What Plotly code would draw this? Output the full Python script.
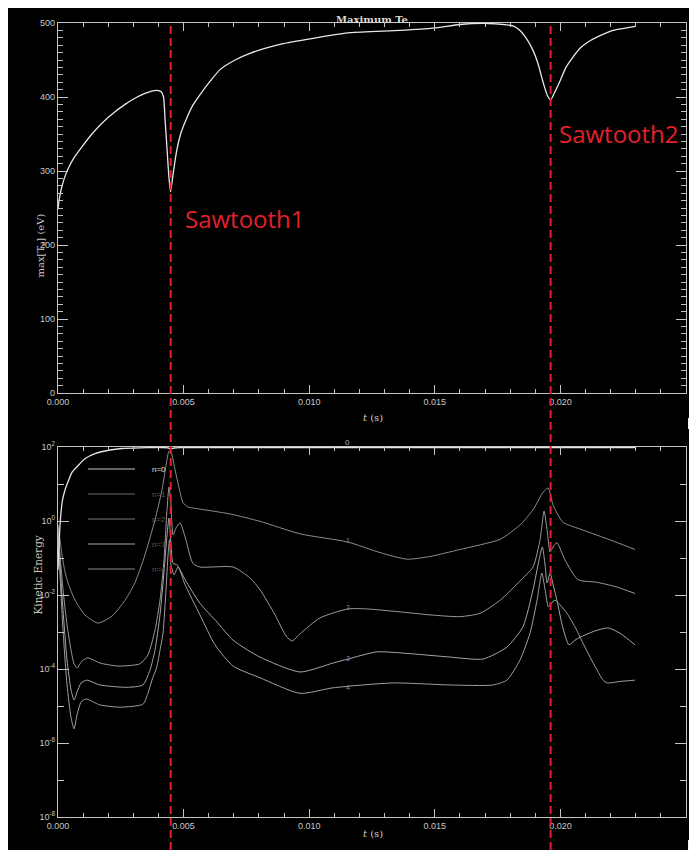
import math
import plotly.graph_objects as go

# ---------------- data ----------------
# Top panel: maximum electron temperature (eV) vs time (s)
te_t = [0.0, 0.00004, 0.00012, 0.00024, 0.00040, 0.00064, 0.00096, 0.00135, 0.00179, 0.00227,
        0.00267, 0.00299, 0.00346, 0.00393, 0.00411, 0.00420, 0.00426, 0.00434, 0.00442, 0.00448,
        0.00454, 0.00462, 0.00474, 0.00490, 0.00512, 0.00537, 0.00565, 0.00605, 0.00645, 0.00705,
        0.00764, 0.00896, 0.01043, 0.01162, 0.01362, 0.01493, 0.01600, 0.01692, 0.01787, 0.01811,
        0.01839, 0.01867, 0.01891, 0.01911, 0.01931, 0.01947, 0.01961, 0.01974, 0.01999, 0.02022,
        0.02050, 0.02078, 0.02118, 0.02158, 0.02210, 0.02258, 0.02298]
te_val = [248, 260, 274, 289, 303, 318, 333, 350, 366, 380,
          390, 397, 405, 409, 407, 400, 371, 330, 290, 272,
          285, 305, 330, 352, 371, 389, 403, 421, 437, 450,
          459, 472, 481, 487, 490, 493, 498, 499.5, 497.5, 496,
          490, 478, 463, 445, 420, 403, 396, 404, 422, 440,
          454, 466, 476, 483, 490, 493, 495.5]

# Bottom panel: kinetic energy per toroidal mode n (log scale)
n0_t = [0.0, 0.00004, 0.00008, 0.00012, 0.00018, 0.00028, 0.00041, 0.00056, 0.00081, 0.00107,
        0.00147, 0.00207, 0.00255, 0.00326, 0.00386, 0.00438, 0.00448, 0.00462, 0.00486, 0.00800,
        0.01200, 0.01600, 0.02000, 0.02297]
n0_val = [0.048, 0.22, 0.78, 1.7, 3.7, 6.9, 12, 21, 32, 48,
          66, 83, 91, 95, 96, 95, 88, 94, 96, 96,
          96, 96, 96, 96]

n1_t = [0.0, 0.00008, 0.00016, 0.00028, 0.00040, 0.00068, 0.00107, 0.00159, 0.00215, 0.00267,
        0.00307, 0.00346, 0.00386, 0.00414, 0.00430, 0.00442, 0.00450, 0.00466, 0.00486, 0.00498,
        0.00517, 0.00565, 0.00685, 0.00804, 0.00963, 0.01154, 0.01282, 0.01389, 0.01481, 0.01600,
        0.01760, 0.01839, 0.01891, 0.01931, 0.01951, 0.01971, 0.02010, 0.02090, 0.02197, 0.02297]
n1_val = [0.78, 0.31, 0.12, 0.042, 0.021, 7.2e-3, 2.9e-3, 1.74e-3, 2.7e-3, 7.2e-3,
          0.022, 0.12, 1.07, 6.9, 32, 78, 73, 24, 6.0, 3.1,
          2.4, 2.1, 1.55, 0.98, 0.45, 0.27, 0.14, 0.093, 0.11, 0.17,
          0.32, 0.78, 2.0, 6.0, 7.8, 2.7, 0.93, 0.57, 0.31, 0.17]

n2_t = [0.0, 0.00008, 0.00020, 0.00036, 0.00052, 0.00064, 0.00076, 0.00096, 0.00119, 0.00167,
        0.00239, 0.00326, 0.00358, 0.00386, 0.00406, 0.00422, 0.00434, 0.00442, 0.00450, 0.00458,
        0.00470, 0.00486, 0.00506, 0.00537, 0.00565, 0.00697, 0.00764, 0.00804, 0.00864, 0.00908,
        0.00932, 0.00963, 0.01043, 0.01154, 0.01230, 0.01362, 0.01481, 0.01600, 0.01680, 0.01760,
        0.01839, 0.01891, 0.01919, 0.01935, 0.01947, 0.01959, 0.01971, 0.01986, 0.02018, 0.02070,
        0.02146, 0.02217, 0.02297]
n2_val = [0.65, 0.12, 0.014, 1.55e-3, 3.2e-4, 1.38e-4, 1.07e-4, 1.66e-4, 2.0e-4, 1.45e-4,
          1.2e-4, 1.38e-4, 2.4e-4, 1.12e-3, 7.2e-3, 0.089, 2.0, 8.3, 2.7, 0.42,
          0.65, 0.89, 0.37, 0.072, 0.057, 0.057, 0.029, 0.014, 2.9e-3, 7.8e-4,
          5.7e-4, 8.9e-4, 2.4e-3, 4.2e-3, 4.2e-3, 3.5e-3, 2.9e-3, 2.6e-3, 3.2e-3, 7.2e-3,
          0.024, 0.057, 0.31, 1.86, 0.57, 0.145, 0.2, 0.26, 0.089, 0.026,
          0.022, 0.017, 0.011]

n3_t = [0.0, 0.00008, 0.00020, 0.00036, 0.00052, 0.00064, 0.00076, 0.00092, 0.00115, 0.00167,
        0.00275, 0.00338, 0.00366, 0.00386, 0.00406, 0.00422, 0.00434, 0.00442, 0.00450, 0.00458,
        0.00474, 0.00506, 0.00565, 0.00633, 0.00697, 0.00804, 0.00963, 0.01095, 0.01154, 0.01270,
        0.01401, 0.01561, 0.01692, 0.01787, 0.01851, 0.01891, 0.01915, 0.01928, 0.01939, 0.01947,
        0.01959, 0.01971, 0.01986, 0.02010, 0.02034, 0.02058, 0.02078, 0.02138, 0.02190, 0.02237,
        0.02297]
n3_val = [0.58, 0.065, 3.9e-3, 1.74e-4, 2.7e-5, 1.45e-5, 2.4e-5, 4.2e-5, 5.0e-5, 3.7e-5,
          3.2e-5, 3.7e-5, 9.3e-5, 3.2e-4, 2.9e-3, 0.042, 0.42, 1.2, 0.22, 0.072,
          0.065, 0.026, 6.0e-3, 1.86e-3, 6.0e-4, 2.1e-4, 8.3e-5, 1.45e-4, 1.86e-4, 2.9e-4,
          2.6e-4, 2.1e-4, 1.86e-4, 3.9e-4, 1.38e-3, 0.014, 0.089, 0.2, 0.065, 0.021,
          0.039, 0.019, 7.2e-3, 1.29e-3, 4.5e-4, 6.0e-4, 7.2e-4, 1.07e-3, 1.29e-3, 9.3e-4,
          4.5e-4]

n4_t = [0.0, 0.00008, 0.00020, 0.00036, 0.00052, 0.00064, 0.00076, 0.00092, 0.00111, 0.00167,
        0.00247, 0.00338, 0.00358, 0.00374, 0.00393, 0.00406, 0.00418, 0.00430, 0.00438, 0.00444,
        0.00450, 0.00462, 0.00478, 0.00506, 0.00565, 0.00625, 0.00697, 0.00804, 0.00963, 0.01095,
        0.01334, 0.01561, 0.01732, 0.01787, 0.01839, 0.01879, 0.01907, 0.01926, 0.01939, 0.01952,
        0.01963, 0.01979, 0.01999, 0.02026, 0.02058, 0.02090, 0.02118, 0.02146, 0.02170, 0.02186,
        0.02237, 0.02297]
n4_val = [0.5, 0.035, 1.12e-3, 3.7e-5, 4.8e-6, 2.4e-6, 5.8e-6, 1.29e-5, 1.55e-5, 1.07e-5,
          9.3e-6, 1.12e-5, 2.2e-5, 5.0e-5, 1.12e-4, 3.2e-4, 9.3e-4, 0.014, 0.12, 0.31,
          0.065, 0.035, 0.057, 0.019, 2.9e-3, 4.5e-4, 1.2e-4, 5.8e-5, 2.2e-5, 3.1e-5,
          4.2e-5, 3.7e-5, 3.7e-5, 5.0e-5, 1.74e-4, 9.3e-4, 7.2e-3, 0.039, 0.014, 4.8e-3,
          6.0e-3, 7.2e-3, 5.4e-3, 3.2e-3, 1.38e-3, 5.0e-4, 2.1e-4, 9.3e-5, 5.0e-5, 4.2e-5,
          4.6e-5, 5.0e-5]

mode_labels = ["n=0", "n=1", "n=2", "n=3", "n=4"]
curve_tags = ["0", "1", "2", "3", "4"]
curve_tag_values = [0.29, 4.5e-3, 1.9e-4, 3.1e-5]
sawtooth_times = [0.004487, 0.01961]
sawtooth_names = ["Sawtooth1", "Sawtooth2"]
x_ticks = [0.0, 0.005, 0.010, 0.015, 0.020, 0.025]
ke_major = [1e-8, 1e-6, 1e-4, 1e-2, 1e0, 1e2]
ke_major_text = ["10<sup>-8</sup>", "10<sup>-6</sup>", "10<sup>-4</sup>",
                 "10<sup>-2</sup>", "10<sup>0</sup>", "10<sup>2</sup>"]
ke_minor = [1e-7, 1e-5, 1e-3, 1e-1, 1e1]

# ---------------- layout geometry ----------------
# The page has an 8px body margin, so the figure is placed at (8, 8) in the window.
OFF = 8
PAGE_W, PAGE_H = 697, 850
W, H = PAGE_W - OFF, PAGE_H - OFF
PLOT_L, PLOT_R, PLOT_T, PLOT_B = 58, 686, 23, 817      # page pixel coordinates
ML, MR = PLOT_L - OFF, W - (PLOT_R - OFF)
MT, MB = PLOT_T - OFF, H - (PLOT_B - OFF)
PW = W - ML - MR
PH = H - MT - MB


def px(x):
    """page x pixel -> paper fraction"""
    return (x - PLOT_L) / PW


def py(y):
    """page y pixel -> paper fraction"""
    return (PLOT_B - y) / PH


AX = "#c4c4c4"
TXT = "#c8c8c8"
RED = "#e3202a"
TICKFONT = dict(family="Liberation Sans", size=9, color=TXT)
SERIF = "DejaVu Serif"

curve_colors = ["#e4e4e4", "#8c8c8c", "#9a9a9a", "#a6a6a6", "#a0a0a0"]
legend_line_colors = ["#c8c8c8", "#6a6a6a", "#7a7a7a", "#a6a6a6", "#8a8a8a"]
legend_text_colors = ["#e0e0e0", "#5c5c5c", "#5c5c5c", "#5c5c5c", "#5c5c5c"]

fig = go.Figure()

fig.add_trace(go.Scatter(x=te_t, y=te_val, mode="lines", xaxis="x", yaxis="y",
                         line=dict(color="#e8e8e8", width=1.3, shape="spline", smoothing=0.6),
                         hoverinfo="skip"))

series = [(n0_t, n0_val), (n1_t, n1_val), (n2_t, n2_val), (n3_t, n3_val), (n4_t, n4_val)]
for i in range(4, -1, -1):
    tt, vv = series[i]
    fig.add_trace(go.Scatter(x=tt, y=vv, mode="lines", xaxis="x2", yaxis="y2",
                             name=mode_labels[i],
                             line=dict(color=curve_colors[i], width=1.3 if i == 0 else 1.0,
                                       shape="spline", smoothing=0.6),
                             hoverinfo="skip"))

common_x = dict(range=[0, 0.025], tickmode="array", tickvals=x_ticks, tickformat=".3f",
                ticks="inside", ticklen=8, tickwidth=1, tickcolor=AX, automargin=False,
                showline=True, linecolor=AX, linewidth=1.2, mirror="allticks",
                showgrid=False, zeroline=False, tickfont=TICKFONT,
                minor=dict(dtick=0.001, tick0=0, ticks="inside", ticklen=4, tickcolor=AX,
                           tickwidth=1, showgrid=False))

fig.update_layout(
    template="none",
    width=W, height=H,
    margin=dict(l=ML, r=MR, t=MT, b=MB, pad=0, autoexpand=False),
    paper_bgcolor="black", plot_bgcolor="black",
    showlegend=False,
    xaxis=dict(domain=[0, 1], anchor="y", **common_x),
    yaxis=dict(domain=[py(393), 1], anchor="x", range=[0, 500], tickmode="linear",
               tick0=0, dtick=100, ticks="inside", ticklen=10, tickwidth=1, tickcolor=AX,
               showline=True, linecolor=AX, linewidth=1.2, mirror="allticks", automargin=False,
               showgrid=False, zeroline=False, tickfont=TICKFONT,
               minor=dict(dtick=10, tick0=0, ticks="inside", ticklen=5, tickcolor=AX,
                          tickwidth=1, showgrid=False)),
    xaxis2=dict(domain=[0, 1], anchor="y2", **common_x),
    yaxis2=dict(domain=[0, py(447)], anchor="x2", type="log", range=[-8, 2],
                tickmode="array", tickvals=ke_major, ticktext=ke_major_text,
                ticks="inside", ticklen=11, tickwidth=1, tickcolor=AX, automargin=False,
                showline=True, linecolor=AX, linewidth=1.2, mirror="allticks",
                showgrid=False, zeroline=False, tickfont=TICKFONT,
                minor=dict(tickmode="array", tickvals=ke_minor, ticks="inside", ticklen=6,
                           tickcolor=AX, tickwidth=1, showgrid=False)),
)

shapes = []
annotations = []

# small resize-handle squares at the right edge
for (yy0, yy1) in [(418, 429), (840, 850)]:
    shapes.append(dict(type="rect", xref="paper", yref="paper", x0=px(688), x1=px(697),
                       y0=py(yy1), y1=py(yy0), fillcolor="#f0f0f0", line=dict(width=0),
                       layer="above"))
    shapes.append(dict(type="line", xref="paper", yref="paper", x0=px(689), x1=px(697),
                       y0=py(yy1 - 1), y1=py(yy0 + 1), line=dict(color="#909090", width=1),
                       layer="above"))

# red dashed sawtooth markers
for ts in sawtooth_times:
    shapes.append(dict(type="line", xref="x", yref="paper", x0=ts, x1=ts, y0=py(850), y1=py(24),
                       line=dict(color=RED, width=2, dash="8px,4px"), layer="above"))

# legend (IDL style) inside the bottom panel
legend_rows = [469, 494, 519, 544, 569]
for i, yy in enumerate(legend_rows):
    shapes.append(dict(type="line", xref="paper", yref="paper", x0=px(88), x1=px(135),
                       y0=py(yy), y1=py(yy), line=dict(color=legend_line_colors[i], width=1.2)))
    annotations.append(dict(xref="paper", yref="paper", x=px(150), y=py(yy), text=mode_labels[i],
                            showarrow=False, xanchor="left", yanchor="middle",
                            font=dict(family="Liberation Sans", size=8,
                                      color=legend_text_colors[i])))

# curve number tags
tag_t = 0.01154
annotations.append(dict(xref="x2", yref="paper", x=tag_t, y=py(442), text=curve_tags[0],
                        showarrow=False, font=dict(family="Liberation Sans", size=8, color="#b0b0b0")))
for tag, val in zip(curve_tags[1:], curve_tag_values):
    annotations.append(dict(xref="x2", yref="y2", x=tag_t, y=math.log10(val),
                            text=tag, showarrow=False,
                            font=dict(family="Liberation Sans", size=7, color="#8a8a8a")))

# titles
annotations.append(dict(xref="paper", yref="paper", x=px(372), y=py(12), text="<b>Maximum Te</b>",
                        showarrow=False, font=dict(family=SERIF, size=10, color="#d8d8d8")))
annotations.append(dict(xref="paper", yref="paper", x=px(32), y=py(212),
                        text="max[T<sub>e</sub>] (eV)", textangle=-90, showarrow=False,
                        font=dict(family=SERIF, size=10, color=TXT)))
annotations.append(dict(xref="paper", yref="paper", x=px(29), y=py(617),
                        text="Kinetic Energy", textangle=-90, showarrow=False,
                        font=dict(family=SERIF, size=10.5, color=TXT)))
for yy in [417, 841]:
    annotations.append(dict(xref="paper", yref="paper", x=px(373), y=py(yy),
                            text="<i>t</i> (s)", showarrow=False,
                            font=dict(family=SERIF, size=10, color=TXT)))

# sawtooth labels
annotations.append(dict(xref="paper", yref="paper", x=px(183), y=py(218), text=sawtooth_names[0],
                        showarrow=False, xanchor="left", yanchor="middle",
                        font=dict(family="Open Sans", size=24, color=RED)))
annotations.append(dict(xref="paper", yref="paper", x=px(557), y=py(133), text=sawtooth_names[1],
                        showarrow=False, xanchor="left", yanchor="middle",
                        font=dict(family="Open Sans", size=24, color=RED)))

fig.update_layout(shapes=shapes, annotations=annotations)
fig.write_html("out.html")
